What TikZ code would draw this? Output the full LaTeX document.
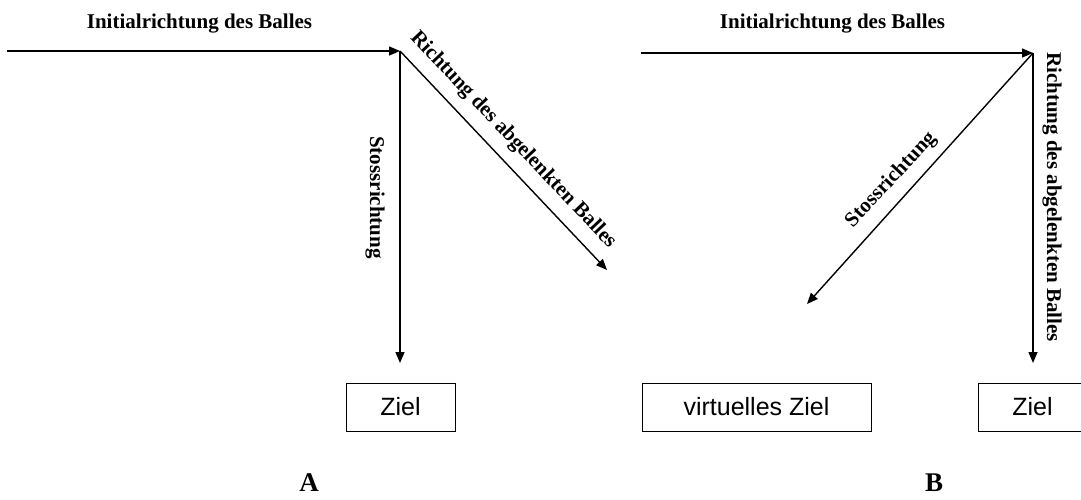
\documentclass[tikz,border=0pt]{standalone}
\usepackage{fontspec}
\setmainfont{Liberation Serif}
\newfontfamily\arialf{Liberation Sans}
\usetikzlibrary{arrows.meta}
\begin{document}
\begin{tikzpicture}[x=1pt,y=-1pt,
  vec/.style={line width=1.4pt,-{Triangle[length=11pt,width=9pt]}},
  lbl/.style={font=\fontsize{21}{24}\selectfont\bfseries, inner sep=0pt},
  box/.style={draw, line width=1pt, minimum height=48pt, inner sep=0pt, font=\arialf\fontsize{25}{28}\selectfont},
  big/.style={font=\fontsize{27}{30}\selectfont\bfseries, inner sep=0pt}]
\useasboundingbox (0,0) rectangle (1081,499);

% ---------- A ----------
\coordinate (sA) at (7,51);
\coordinate (jA) at (400,51);
\coordinate (vA) at (400,363);
\coordinate (dA) at (607,270);
\draw[vec] (sA) -- (jA);
\draw[vec] (jA) -- (vA);
\draw[vec] (jA) -- (dA);
\node[lbl] (tA) at (199.5,24) {Initialrichtung des Balles};
\node[lbl, rotate=-90] (stA) at (375,197.5) {Stossrichtung};
\node[lbl, rotate=-46.6] (rA) at (513,140) {Richtung des abgelenkten Balles};
\node[box, minimum width=109pt] (zA) at (400.5,407) {Ziel};
\node[big] (lA) at (309,483) {A};

% ---------- B ----------
\coordinate (sB) at (641,53);
\coordinate (jB) at (1033,53);
\coordinate (vB) at (1033,363);
\coordinate (dB) at (807,304);
\draw[vec] (sB) -- (jB);
\draw[vec] (jB) -- (vB);
\draw[vec] (jB) -- (dB);
\node[lbl] (tB) at (832.5,24) {Initialrichtung des Balles};
\node[lbl, rotate=47] (stB) at (891,180) {Stossrichtung};
\node[lbl, rotate=-90] (rB) at (1052,197) {Richtung des abgelenkten Balles};
\node[box, minimum width=229pt] (vz) at (756.5,407) {virtuelles Ziel};
\node[box, minimum width=109pt] (zB) at (1032.5,407) {Ziel};
\node[big] (lB) at (934,483) {B};
\end{tikzpicture}
\end{document}
